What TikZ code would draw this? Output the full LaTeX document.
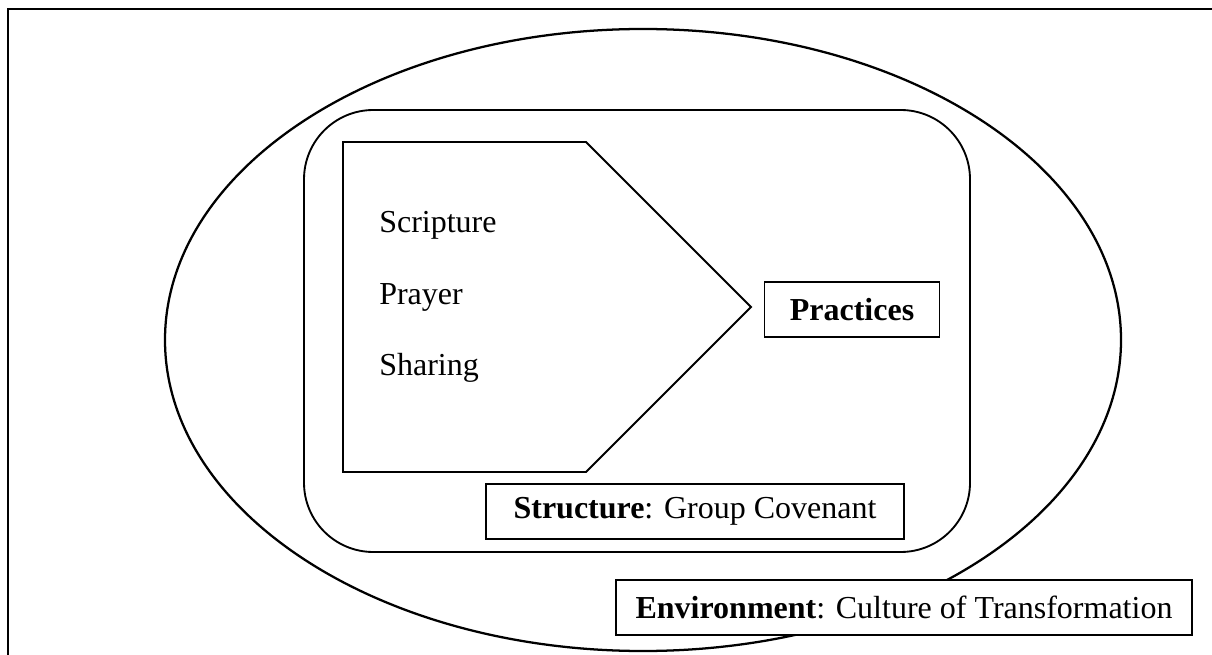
\documentclass[tikz,border=0pt]{standalone}
\usepackage{fontspec}
\setmainfont{Liberation Serif}

\begin{document}
\begin{tikzpicture}[x=0.75pt,y=-0.75pt,
  labelbox/.style={draw,fill=white,line width=1pt,inner sep=0pt,minimum height=41.25pt,font=\fontsize{24}{28}\selectfont},
  listitem/.style={anchor=base west,inner sep=0pt,font=\fontsize{24}{28}\selectfont}]
  \useasboundingbox (0,0) rectangle (1212,655);
  % frame
  \draw[line width=2.2pt] (8,655) -- (8,9) -- (1212,9);
  % environment and structure
  \draw[line width=1.7pt] (643,340) ellipse (478 and 311);
  \draw[line width=1.4pt,rounded corners=52pt] (304,110) rectangle (970,552);
  % practices arrow
  \draw[line width=1.4pt] (343,142) -- (586,142) -- (751,307) -- (586,472) -- (343,472) -- cycle;
  \node[listitem] (scripture) at (379,233) {Scripture};
  \node[listitem] (prayer) at (379,305) {Prayer};
  \node[listitem] (sharing) at (379,376) {Sharing};
  \node[labelbox,minimum width=131.25pt] (practices) at (852,309.5) {\textbf{Practices}};
  \node[labelbox,minimum width=313.5pt] (structure) at (695,511.5) {\textbf{Structure}: Group Covenant};
  \node[labelbox,minimum width=432pt] (environment) at (904,607.5) {\textbf{Environment}: Culture of Transformation};
\end{tikzpicture}
\end{document}
